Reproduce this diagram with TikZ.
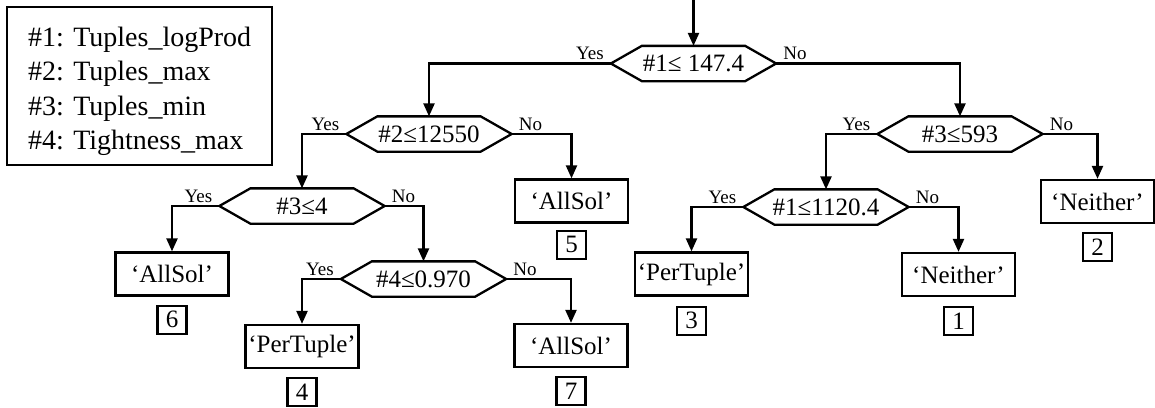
\documentclass[tikz,border=0pt]{standalone}
\usepackage{fontspec}
\setmainfont{Liberation Serif}
\usetikzlibrary{arrows.meta,positioning}
\newcommand\hexpath[1]{\draw (#1.west) -- ([xshift=31pt]#1.north west) -- ([xshift=-31pt]#1.north east) -- (#1.east) -- ([xshift=-31pt]#1.south east) -- ([xshift=31pt]#1.south west) -- cycle;}
\begin{document}
\begin{tikzpicture}[x=1pt,y=-1pt,
  line width=2.3pt,
  hex/.style={minimum width=163pt,minimum height=33pt,inner sep=0pt,font=\fontsize{25}{28}\selectfont},
  leaf/.style={draw,minimum width=113pt,minimum height=43pt,inner sep=0pt,font=\fontsize{25}{28}\selectfont},
  num/.style={draw,minimum width=29pt,minimum height=28pt,inner sep=0pt,font=\fontsize{25}{28}\selectfont},
  conn/.style={-{Triangle[length=13pt,width=11pt]}},
  yes/.style={pos=0,anchor=base east,inner sep=0pt,xshift=-6pt,yshift=4pt,font=\fontsize{19}{22}\selectfont},
  no/.style={pos=0,anchor=base west,inner sep=0pt,xshift=6pt,yshift=4pt,font=\fontsize{19}{22}\selectfont},
]
\useasboundingbox (0,0) rectangle (1155,407);
% legend
\node[draw,minimum width=265pt,minimum height=158pt,inner sep=0pt] (legend) at (139.5,86) {};
\node[anchor=north west,align=left,inner sep=0pt,font=\fontsize{28}{34.3}\selectfont] (legtext) at (27,26)
  {\#1: Tuples\_logProd\\\#2: Tuples\_max\\\#3: Tuples\_min\\\#4: Tightness\_max};
% decision nodes
\node[hex] (h1) at (693.5,63.5) {\#1≤ 147.4};
\node[hex] (h2) at (429,134) {\#2≤12550};
\node[hex] (h3) at (302,206) {\#3≤4};
\node[hex] (h4) at (423.5,279) {\#4≤0.970};
\node[hex] (h5) at (826,207) {\#1≤1120.4};
\node[hex] (h6) at (960,134) {\#3≤593};
\hexpath{h1}\hexpath{h2}\hexpath{h3}\hexpath{h4}\hexpath{h5}\hexpath{h6}
% leaves
\node[leaf] (a6) at (172,274) {‘AllSol’};
\node[leaf] (a5) at (571.5,201) {‘AllSol’};
\node[leaf] (p4) at (302,346.5) {‘PerTuple’};
\node[leaf] (a7) at (571,345.5) {‘AllSol’};
\node[leaf] (p3) at (691.5,274) {‘PerTuple’};
\node[leaf] (n1) at (958.5,274.5) {‘Neither’};
\node[leaf] (n2) at (1097.5,201.5) {‘Neither’};
% numbers
\node[num,below=8pt of a6] (k6) {6};
\node[num,below=6pt of a5] (k5) {5};
\node[num,below=8pt of p4] (k4) {4};
\node[num,below=8pt of a7] (k7) {7};
\node[num,below=9pt of p3] (k3) {3};
\node[num,below=9pt of n1] (k1) {1};
\node[num,below=8pt of n2] (k2) {2};
% connectors
\coordinate (top) at (693.5,0);
\draw[conn] (top) -- (h1.north);
\draw[conn] (h1.west) -| node[yes]{Yes} (h2.north);
\draw[conn] (h1.east) -| node[no]{No} (h6.north);
\draw[conn] (h2.west) -| node[yes]{Yes} (h3.north);
\draw[conn] (h2.east) -| node[no]{No} (a5.north);
\draw[conn] (h3.west) -| node[yes]{Yes} (a6.north);
\draw[conn] (h3.east) -| node[no]{No} (h4.north);
\draw[conn] (h4.west) -| node[yes]{Yes} (p4.north);
\draw[conn] (h4.east) -| node[no]{No} (a7.north);
\draw[conn] (h6.west) -| node[yes]{Yes} (h5.north);
\draw[conn] (h6.east) -| node[no]{No} (n2.north);
\draw[conn] (h5.west) -| node[yes]{Yes} (p3.north);
\draw[conn] (h5.east) -| node[no]{No} (n1.north);
\end{tikzpicture}
\end{document}
